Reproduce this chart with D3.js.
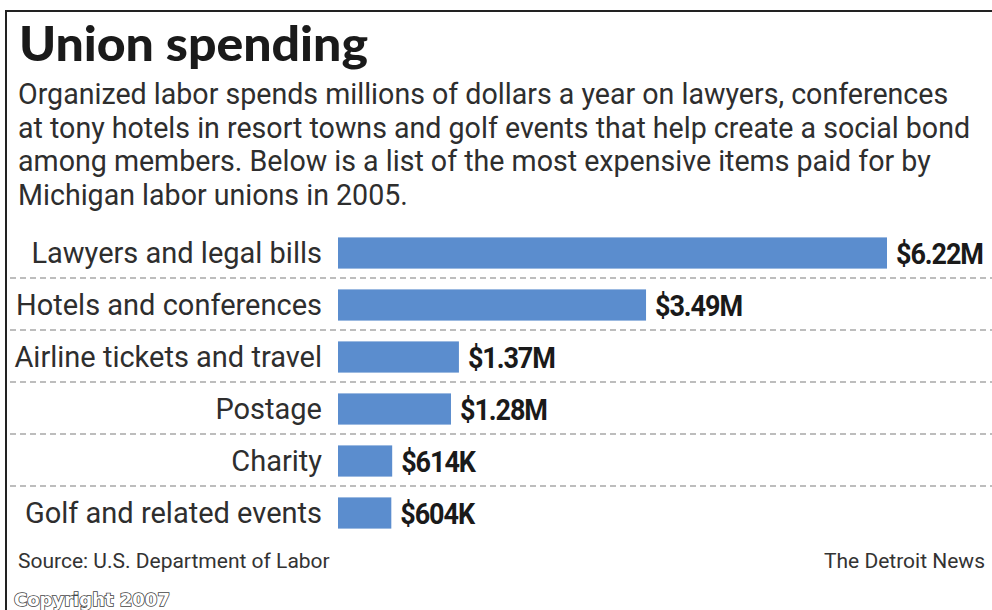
<!DOCTYPE html>
<html><head><meta charset="utf-8">
<script src="https://cdn.jsdelivr.net/npm/d3@7/dist/d3.min.js"></script>
<style>body{margin:0;background:#fff;}svg{display:block;}</style>
</head><body>
<svg id="c" width="992" height="610"></svg>
<script>
const categories = ["Lawyers and legal bills","Hotels and conferences","Airline tickets and travel","Postage","Charity","Golf and related events"];
const values = [6.22, 3.49, 1.37, 1.28, 0.614, 0.604]; // millions of dollars
const valueLabels = ["$6.22M","$3.49M","$1.37M","$1.28M","$614K","$604K"];
const title = "Union spending";
const subtitle = ["Organized labor spends millions of dollars a year on lawyers, conferences",
  "at tony hotels in resort towns and golf events that help create a social bond",
  "among members. Below is a list of the most expensive items paid for by",
  "Michigan labor unions in 2005."];
const source = "Source: U.S. Department of Labor";
const credit = "The Detroit News";
const copyright = "Copyright 2007";

const svg = d3.select("#c");
// frame
svg.append("line").attr("x1",5).attr("x2",992).attr("y1",11).attr("y2",11).attr("stroke","#222").attr("stroke-width",2);
svg.append("line").attr("x1",6).attr("x2",6).attr("y1",10).attr("y2",610).attr("stroke","#222").attr("stroke-width",2);

svg.append("text").attr("x",19).attr("y",61).text(title)
  .attr("textLength",349).attr("lengthAdjust","spacingAndGlyphs")
  .attr("font-family","Lato, 'DejaVu Sans', sans-serif").attr("font-weight",900).attr("font-size",47).attr("fill","#1a1a1a");

svg.append("g").selectAll("text").data(subtitle).join("text")
  .attr("x",18).attr("y",(d,i)=>104+i*33.5).text(d=>d)
  .attr("font-family","Roboto, sans-serif").attr("font-size",28.6).attr("fill","#2e2e2e");

const x = d3.scaleLinear().domain([0, 6.22]).range([338, 887]);
const y = d3.scaleBand().domain(categories).range([227, 539]).paddingInner(0.4).paddingOuter(0.2);

// dashed separators
svg.append("g").selectAll("line").data(categories.slice(0,-1)).join("line")
  .attr("x1",10).attr("x2",992)
  .attr("y1",d=>y(d)+y.bandwidth()+(y.step()-y.bandwidth())/2 - 1)
  .attr("y2",d=>y(d)+y.bandwidth()+(y.step()-y.bandwidth())/2 - 1)
  .attr("stroke","#a8a8a8").attr("stroke-width",1.5).attr("stroke-dasharray","6,4");

svg.append("g").selectAll("rect").data(values).join("rect")
  .attr("x",x(0)).attr("y",(d,i)=>y(categories[i]))
  .attr("width",d=>x(d)-x(0)).attr("height",y.bandwidth())
  .attr("fill","#5b8dce");

svg.append("g").selectAll("text").data(categories).join("text")
  .attr("x",322).attr("y",d=>y(d)+y.bandwidth()/2).attr("dy","0.355em")
  .attr("text-anchor","end").text(d=>d)
  .attr("font-family","Roboto, sans-serif").attr("font-size",29).attr("fill","#2e2e2e");

svg.append("g").selectAll("text").data(values).join("text")
  .attr("transform",(d,i)=>`translate(${x(d)+9},${y(categories[i])+y.bandwidth()/2}) scale(0.9,1)`)
  .attr("dy","0.355em")
  .text((d,i)=>valueLabels[i])
  .attr("font-family","Roboto, sans-serif").attr("font-weight","bold")
  .attr("font-size",30).attr("letter-spacing",-1.2).attr("fill","#1a1a1a");

svg.append("text").attr("x",18).attr("y",568).text(source)
  .attr("font-family","Roboto, sans-serif").attr("font-size",21).attr("fill","#333");
svg.append("text").attr("x",985).attr("y",568).attr("text-anchor","end").text(credit)
  .attr("font-family","Roboto, sans-serif").attr("font-size",21).attr("fill","#333");
svg.append("text").attr("x",14).attr("y",606).text(copyright)
  .attr("font-family","'DejaVu Sans', sans-serif").attr("font-weight","bold").attr("font-size",18)
  .attr("fill","#fff").attr("stroke","#444").attr("stroke-width",1.6).attr("paint-order","stroke");
</script>
</body></html>
